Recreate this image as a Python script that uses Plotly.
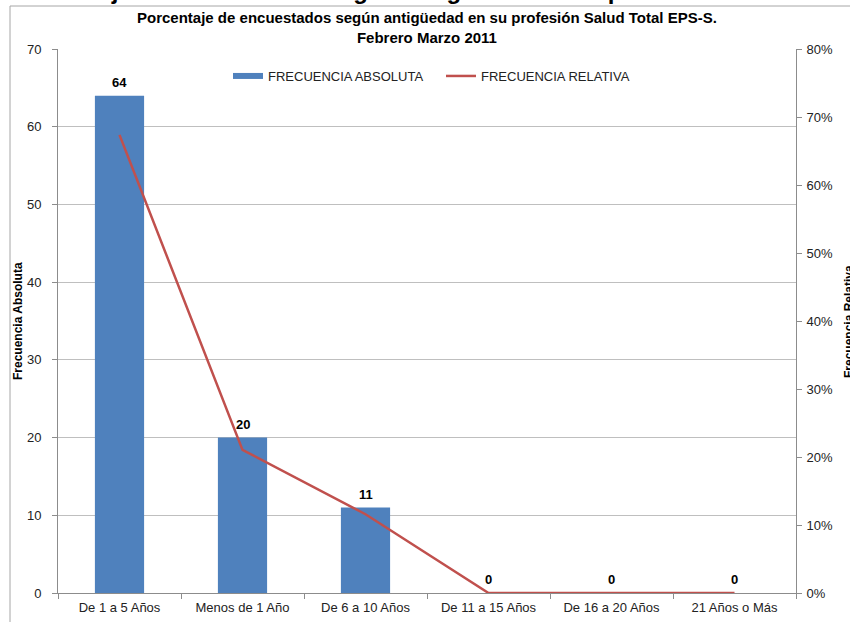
import plotly.graph_objects as go

# Survey data: years of experience in the profession
categorias = ["De 1 a 5 Años", "Menos de 1 Año", "De 6 a 10 Años",
              "De 11 a 15 Años", "De 16 a 20 Años", "21 Años o Más"]
frecuencia_absoluta = [64, 20, 11, 0, 0, 0]
frecuencia_relativa = [0.6737, 0.2105, 0.1158, 0.0, 0.0, 0.0]

titulo = ("Porcentaje de encuestados según antigüedad en su profesión Salud Total EPS-S."
          "<br>Febrero Marzo 2011")
titulo_superior = "Porcentaje de encuestados según antigüedad en su profesión"

AZUL = "#4F81BD"
ROJO = "#C0504D"
GRIS_EJE = "#8C8C8C"
GRIS_GRID = "#BFBFBF"
FUENTE = "Liberation Sans, Arial, sans-serif"

W, H = 850, 622
ML, MR, MT, MB = 58, 54, 49, 29
PW = W - ML - MR
PH = H - MT - MB


def px_x(px):
    return (px - ML) / PW


def px_y(py):
    return (H - MB - py) / PH


fig = go.Figure()

fig.add_trace(go.Bar(
    x=categorias, y=frecuencia_absoluta, name="FRECUENCIA ABSOLUTA",
    marker=dict(color=AZUL, line=dict(width=0)), showlegend=False,
    yaxis="y",
))

# legend entry for the bars drawn as a wide swatch
fig.add_trace(go.Scatter(
    x=[None], y=[None], mode="lines", name="FRECUENCIA ABSOLUTA",
    line=dict(color=AZUL, width=6), yaxis="y",
))

fig.add_trace(go.Scatter(
    x=categorias, y=frecuencia_relativa, name="FRECUENCIA RELATIVA",
    mode="lines", line=dict(color=ROJO, width=2.5), yaxis="y2",
))

anotaciones = []
for c, v in zip(categorias, frecuencia_absoluta):
    anotaciones.append(dict(
        x=c, y=v, xref="x", yref="y", text=str(v), showarrow=False,
        yanchor="bottom", yshift=4,
        font=dict(family=FUENTE, size=13, color="#000000", weight="bold"),
    ))

anotaciones += [
    dict(x=px_x(18), y=0.5, xref="paper", yref="paper", text="Frecuencia Absoluta",
         textangle=-90, showarrow=False, xanchor="center", yanchor="middle",
         font=dict(family=FUENTE, size=12, color="#000000", weight="bold")),
    dict(x=px_x(849), y=0.5, xref="paper", yref="paper", text="Frecuencia Relativa",
         textangle=-90, showarrow=False, xanchor="center", yanchor="middle",
         font=dict(family=FUENTE, size=12, color="#000000", weight="bold")),
    dict(x=px_x(427), y=px_y(27.5), xref="paper", yref="paper", text=titulo,
         showarrow=False, xanchor="center", yanchor="middle",
         font=dict(family=FUENTE, size=15, color="#000000", weight="bold")),
    dict(x=px_x(363), y=px_y(6), xref="paper", yref="paper", text=titulo_superior,
         showarrow=False, xanchor="center", yanchor="bottom",
         font=dict(family=FUENTE, size=24, color="#000000", weight="bold")),
]

fig.update_layout(
    width=W, height=H,
    margin=dict(l=ML, r=MR, t=MT, b=MB, pad=0, autoexpand=False),
    paper_bgcolor="white", plot_bgcolor="white",
    bargap=0.6,
    font=dict(family=FUENTE, size=13, color="#222222"),
    xaxis=dict(
        showline=True, linecolor=GRIS_EJE, linewidth=1,
        ticks="outside", tickson="boundaries", ticklen=5, tickcolor=GRIS_EJE,
        showgrid=False, tickfont=dict(size=13, color="#222222"),
        ticklabelstandoff=2, automargin=False,
    ),
    yaxis=dict(
        range=[0, 70], dtick=10, showline=True, linecolor=GRIS_EJE,
        ticks="outside", ticklen=5, tickcolor=GRIS_EJE,
        showgrid=True, gridcolor=GRIS_GRID, gridwidth=1,
        zeroline=False, tickfont=dict(size=13, color="#222222"),
        ticklabelstandoff=8, automargin=False,
    ),
    yaxis2=dict(
        range=[0, 0.8], dtick=0.1, tickformat=".0%", overlaying="y", side="right",
        showline=True, linecolor=GRIS_EJE, ticks="outside", ticklen=5,
        tickcolor=GRIS_EJE, showgrid=False, zeroline=False,
        tickfont=dict(size=13, color="#222222"), ticklabelstandoff=2,
        automargin=False,
    ),
    legend=dict(
        orientation="h", x=px_x(228), y=px_y(61), xanchor="left", yanchor="top",
        bgcolor="rgba(0,0,0,0)", font=dict(size=13, color="#222222"),
        traceorder="normal", entrywidth=168,
    ),
    annotations=anotaciones,
    shapes=[dict(
        type="rect", xref="paper", yref="paper",
        x0=px_x(10), x1=px_x(900), y0=px_y(700), y1=px_y(6),
        line=dict(color="#A6A6A6", width=1), fillcolor="rgba(0,0,0,0)",
        layer="below",
    )],
)

fig.write_html("out.html")
